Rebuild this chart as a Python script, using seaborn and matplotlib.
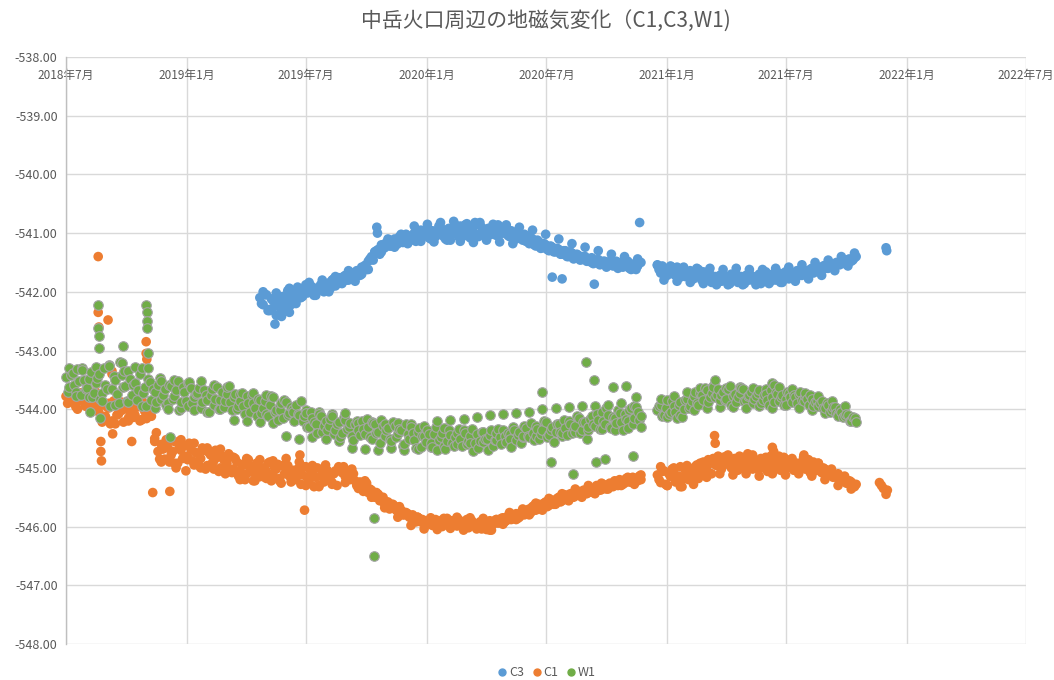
import numpy as np
import pandas as pd
import matplotlib
matplotlib.use("Agg")
import matplotlib.pyplot as plt
from matplotlib.lines import Line2D
import seaborn as sns

# ---- readings on two interleaved 5-day grids plus a 10-day grid ----
grid_start_a = "2018-07-01"
grid_start_b = "2018-07-03 12:00"
grid_start_c = "2018-07-06"

c1_values_a = [
    -543.78, -543.85, -543.70, -543.92, -543.80, -543.74, -543.95, -543.82, -543.88, -543.76,
    -544.05, -543.92, -544.12, -543.98, -544.20, -543.90, -544.08, -544.02, -543.94, -544.15,
    -544.00, -544.10, -543.96, -544.18, -544.04, -543.92, -544.12, -544.55, -544.72, -544.60,
    -544.85, -544.66, -544.78, -544.55, -544.92, -544.70, -544.62, -544.80, -544.68, -544.95,
    -544.75, -544.84, -544.70, -544.96, -544.78, -544.88, -544.82, -545.00, -544.86, -544.92,
    -544.80, -545.02, -544.90, -545.05, -544.95, -545.10, -544.98, -545.08, -544.92, -545.15,
    -545.00, -545.06, -544.90, -545.12, -545.02, -545.18, -544.96, -545.08, -545.14, -545.04,
    -545.20, -545.06, -545.12, -544.98, -545.22, -545.10, -545.16, -545.30, -545.08, -545.18,
    -545.12, -545.25, -545.05, -545.00, -545.08, -545.15, -545.05, -545.18, -545.22, -545.28,
    -545.35, -545.30, -545.42, -545.38, -545.50, -545.45, -545.55, -545.62, -545.58, -545.68,
    -545.65, -545.74, -545.72, -545.80, -545.78, -545.85, -545.88, -545.84, -545.92, -545.90,
    -545.95, -545.88, -545.93, -545.97, -545.90, -545.94, -545.86, -545.96, -545.92, -545.99,
    -545.91, -545.95, -545.88, -545.98, -545.94, -546.02, -545.92, -545.97, -546.05, -545.90,
    -545.96, -545.88, -545.93, -545.85, -545.90, -545.82, -545.86, -545.78, -545.84, -545.74,
    -545.78, -545.70, -545.66, -545.72, -545.62, -545.68, -545.58, -545.64, -545.55, -545.60,
    -545.50, -545.56, -545.46, -545.52, -545.44, -545.48, -545.40, -545.45, -545.38, -545.42,
    -545.35, -545.40, -545.32, -545.37, -545.30, -545.34, -545.28, -545.25, -545.30, -545.22,
    -545.26, -545.20, -545.24, -545.18, -545.22, -545.20, np.nan, np.nan, np.nan, np.nan,
    -545.12, -545.25, -545.05, -545.30, -545.15, -545.08, -545.22, -544.98, -545.18, -545.10,
    -545.02, -545.14, -544.95, -545.08, -544.90, -545.00, -544.92, -544.85, -544.96, -544.88,
    -544.82, -544.92, -544.86, -544.95, -544.88, -545.00, -544.90, -544.96, -544.84, -545.02,
    -544.92, -544.88, -545.00, -544.94, -544.86, -545.05, -544.95, -544.90, -545.02, -544.92,
    -544.98, -544.88, -545.00, -544.95, -544.90, -545.02, -544.86, -544.98, -545.05, -544.92,
    -545.08, -545.02, -545.12, -545.06, -545.15, -545.10, -545.20, -545.18, -545.26, -545.24,
    -545.32,
]
c1_values_b = [
    -543.90, -543.68, -543.84, -544.00, -543.72, -543.88, -543.66, -544.02, -543.78, -543.95,
    -543.88, -544.18, -543.96, -544.25, -543.86, -544.10, -543.94, -544.22, -543.90, -544.06,
    -544.14, -543.92, -544.20, -543.88, -544.16, -544.06, -543.98, -544.40, -544.85, -544.68,
    -544.52, -544.90, -544.72, -545.00, -544.64, -544.84, -545.05, -544.58, -544.88, -544.74,
    -544.96, -544.66, -545.02, -544.74, -544.92, -544.70, -545.06, -544.80, -545.10, -544.76,
    -545.08, -544.84, -545.14, -544.94, -545.20, -544.86, -545.04, -545.22, -544.96, -545.06,
    -545.16, -544.92, -545.22, -545.00, -544.94, -545.26, -545.10, -544.96, -545.24, -545.12,
    -545.02, -545.28, -544.98, -545.18, -545.06, -545.32, -545.00, -545.14, -545.24, -545.04,
    -545.22, -545.10, -545.30, -545.02, -544.98, -545.12, -545.20, -545.10, -545.30, -545.24,
    -545.40, -545.26, -545.36, -545.48, -545.42, -545.56, -545.50, -545.58, -545.70, -545.62,
    -545.72, -545.66, -545.80, -545.76, -545.84, -545.80, -545.92, -545.86, -545.88, -545.96,
    -545.90, -545.98, -545.88, -545.94, -546.00, -545.92, -545.98, -545.90, -545.96, -545.88,
    -545.97, -545.92, -546.02, -545.90, -545.99, -545.95, -546.04, -545.93, -545.98, -546.06,
    -545.90, -545.94, -545.86, -545.92, -545.82, -545.88, -545.80, -545.86, -545.76, -545.80,
    -545.72, -545.76, -545.64, -545.70, -545.66, -545.60, -545.66, -545.56, -545.62, -545.52,
    -545.58, -545.48, -545.54, -545.44, -545.50, -545.40, -545.46, -545.38, -545.44, -545.36,
    -545.42, -545.30, -545.38, -545.28, -545.36, -545.26, -545.32, -545.24, -545.20, -545.28,
    -545.18, -545.24, -545.16, -545.22, -545.14, np.nan, np.nan, np.nan, np.nan, np.nan,
    -545.20, -545.06, -545.28, -545.10, -545.02, -545.24, -545.14, -545.32, -545.04, -545.20,
    -545.10, -544.98, -545.18, -544.92, -545.04, -544.86, -545.10, -544.94, -544.80, -545.02,
    -544.94, -544.78, -545.00, -544.84, -545.04, -544.82, -544.98, -544.76, -544.92, -544.86,
    -545.02, -544.84, -544.96, -545.06, -544.80, -544.98, -544.88, -545.04, -544.82, -545.00,
    -544.86, -545.04, -544.92, -545.00, -544.82, -544.96, -545.08, -544.90, -544.98, -545.04,
    -545.00, -545.10, -545.06, -545.16, -545.12, -545.22, -545.16, -545.26, -545.22, -545.30,
    -545.28,
]
c1_values_c = [
    -543.66, -543.96, -543.72, -543.98, -543.70,
    -544.22, -543.90, -544.25, -543.88, -544.20, -543.92, -544.18, -543.95,
    -544.50, -544.90, -544.55, -544.92, -544.52, -544.86, -544.58,
    -545.00, -544.66, -545.02, -544.68, -544.98,
    -544.82, -545.20, -544.84, -545.22, -544.86, -545.18, -544.88, -545.22, -544.84, -545.20, -544.90,
    -545.30, -544.96, -545.32, -544.95, -545.28, -544.98, -545.25, -545.02,
    -545.35, -545.22, -545.50, -545.45, -545.68, -545.62, -545.84, -545.76, -545.98,
    -545.84, -546.04, -545.85, -546.05, -545.86, -546.03, -545.84, -546.06, -545.85, -546.04,
    -545.86, -546.06, -545.88,
    -545.96, -545.76, -545.88, -545.70, -545.80, -545.60, -545.72, -545.52,
    -545.62, -545.44, -545.56, -545.36, -545.50, -545.30, -545.44, -545.26, -545.36, -545.22,
    -545.30, -545.16, -545.28,
    -545.12, np.nan, np.nan,
    -544.98, -545.30, -545.00, -545.32, -544.96, -545.28, -544.92, -545.16, -544.84,
    -545.10, -544.80, -545.12, -544.80, -545.10, -544.78, -545.14, -544.82, -545.10, -544.80,
    -545.12, -544.84,
    -545.10, -544.86, -545.14, -544.92, -545.20, -545.02, -545.30, -545.14, -545.36,
]

w1_values_a = [
    -543.45, -543.62, -543.38, -543.70, -543.52, -543.30, -543.66, -543.48, -543.80, -543.55,
    -543.40, -543.72, -543.58, -543.25, -543.65, -543.50, -543.90, -543.42, -543.60, -543.35,
    -543.75, -543.55, -543.68, -543.30, -543.62, -543.48, -543.85, -543.70, -543.58, -543.82,
    -543.66, -543.90, -543.60, -543.78, -543.52, -543.88, -543.70, -543.95, -543.64, -543.80,
    -543.72, -543.98, -543.68, -543.85, -543.76, -543.92, -543.62, -543.84, -543.96, -543.74,
    -543.88, -543.80, -544.00, -543.86, -543.95, -543.78, -544.05, -543.90, -544.12, -543.84,
    -543.98, -544.08, -543.92, -543.80, -544.02, -543.94, -544.15, -543.88, -544.06, -544.00,
    -543.92, -544.10, -544.20, -544.02, -544.30, -544.15, -544.25, -544.08, -544.38, -544.20,
    -544.28, -544.12, -544.35, -544.22, -544.40, -544.18, -544.30, -544.45, -544.25, -544.36,
    -544.20, -544.42, -544.30, -544.50, -544.26, -544.38, -544.18, -544.46, -544.32, -544.55,
    -544.28, -544.40, -544.35, -544.60, -544.42, -544.30, -544.52, -544.38, -544.65, -544.45,
    -544.35, -544.58, -544.42, -544.70, -544.48, -544.32, -544.55, -544.44, -544.62, -544.40,
    -544.50, -544.36, -544.60, -544.46, -544.72, -544.42, -544.54, -544.38, -544.50, -544.44,
    -544.62, -544.40, -544.48, -544.35, -544.56, -544.42, -544.30, -544.52, -544.38, -544.45,
    -544.32, -544.48, -544.40, -544.28, -544.50, -544.36, -544.22, -544.44, -544.30, -544.38,
    -544.25, -544.45, -544.32, -544.20, -544.40, -544.28, -544.15, -544.35, -544.22, -544.30,
    -544.12, -544.28, -544.18, -544.05, -544.25, -544.10, -544.32, -544.15, -544.02, -544.22,
    -544.08, -544.20, -543.98, -544.15, -544.05, -544.12, np.nan, np.nan, np.nan, np.nan,
    -544.02, -543.92, -544.10, -543.85, -544.05, -543.95, -544.15, -543.88, -544.00, -543.82,
    -543.95, -543.78, -543.90, -543.72, -543.85, -543.68, -543.80, -543.62, -543.75, -543.85,
    -543.70, -543.82, -543.60, -543.78, -543.88, -543.72, -543.66, -543.84, -543.75, -543.90,
    -543.78, -543.68, -543.85, -543.74, -543.92, -543.80, -543.70, -543.86, -543.76, -543.82,
    -543.72, -543.88, -543.80, -543.74, -543.85, -543.78, -543.92, -543.82, -543.88, -543.95,
    -543.86, -543.98, -543.92, -544.02, -543.96, -544.08, -544.04, -544.12, -544.10, -544.18,
    -544.15,
]
w1_values_b = [
    -543.70, -543.42, -543.58, -543.32, -543.76, -543.50, -543.64, -543.36, -543.72, -543.46,
    -543.82, -543.30, -543.66, -543.95, -543.44, -543.74, -543.20, -543.62, -543.86, -543.48,
    -543.58, -543.84, -543.40, -543.72, -543.94, -543.54, -543.66, -543.88, -543.46, -543.76,
    -543.92, -543.58, -543.82, -543.68, -544.02, -543.62, -543.86, -543.54, -543.90, -543.74,
    -543.64, -543.88, -543.76, -544.04, -543.66, -543.82, -544.00, -543.70, -543.86, -543.60,
    -544.02, -543.74, -543.94, -543.72, -544.08, -543.90, -543.76, -543.98, -543.82, -544.06,
    -543.86, -544.12, -543.78, -544.04, -544.18, -543.90, -543.84, -544.10, -543.96, -544.20,
    -544.08, -543.86, -544.12, -544.30, -544.04, -544.22, -544.40, -544.12, -544.28, -544.36,
    -544.16, -544.42, -544.26, -544.48, -544.14, -544.34, -544.24, -544.52, -544.20, -544.44,
    -544.34, -544.16, -544.48, -544.24, -544.40, -544.58, -544.28, -544.36, -544.50, -544.22,
    -544.48, -544.34, -544.62, -544.26, -544.50, -544.40, -544.66, -544.32, -544.46, -544.56,
    -544.42, -544.64, -544.30, -544.52, -544.40, -544.68, -544.36, -544.58, -544.48, -544.34,
    -544.62, -544.40, -544.54, -544.34, -544.58, -544.66, -544.38, -544.50, -544.70, -544.36,
    -544.52, -544.34, -544.60, -544.46, -544.40, -544.64, -544.36, -544.44, -544.58, -544.28,
    -544.46, -544.24, -544.52, -544.34, -544.42, -544.20, -544.48, -544.36, -544.56, -544.26,
    -544.38, -544.18, -544.44, -544.26, -544.34, -544.12, -544.40, -544.22, -544.50, -544.16,
    -544.26, -544.08, -544.34, -544.20, -543.98, -544.30, -544.14, -544.24, -544.06, -544.36,
    -544.16, -544.02, -544.26, -543.96, -544.18, np.nan, np.nan, np.nan, np.nan, np.nan,
    -543.94, -544.12, -543.98, -544.08, -543.86, -544.04, -543.92, -544.14, -543.84, -543.98,
    -543.86, -543.70, -543.92, -543.76, -543.64, -543.88, -543.72, -543.80, -543.66, -543.76,
    -543.84, -543.66, -543.92, -543.74, -543.80, -543.64, -543.86, -543.78, -543.70, -543.82,
    -543.72, -543.90, -543.76, -543.84, -543.68, -543.88, -543.74, -543.80, -543.92, -543.70,
    -543.80, -543.76, -543.90, -543.70, -543.86, -543.82, -543.76, -543.94, -543.86, -543.90,
    -543.98, -543.90, -544.04, -543.96, -544.06, -544.00, -544.14, -544.08, -544.20, -544.14,
    -544.22,
]
w1_values_c = [
    -543.30, -543.78, -543.34, -543.80, -543.28,
    -543.86, -543.26, -543.92, -543.22, -543.88, -543.28, -543.95, -543.30,
    -543.98, -543.52, -544.00, -543.50, -543.98, -543.55, -544.02, -543.52, -544.04, -543.58,
    -544.00, -543.62,
    -544.18, -543.74, -544.20, -543.72, -544.22, -543.76, -544.24,
    -544.02, -544.46, -544.04, -544.50, -544.06, -544.48, -544.04, -544.50, -544.08, -544.54,
    -544.06,
    -544.66, -544.24, -544.68, -544.22, -544.70, -544.26, -544.66, -544.24, -544.70, -544.26,
    -544.68, -544.28, -544.64,
    -544.20, -544.62, -544.18, -544.60, -544.16, -544.58, -544.14, -544.56, -544.10, -544.52,
    -544.08, -544.50, -544.06, -544.48, -544.04,
    -544.45, -544.00, -544.42, -543.98, -544.40, -543.96, -544.38, -543.95, -544.36, -543.94,
    -544.34, -543.92, -544.35, -543.90, -544.32, -543.94,
    -544.30, np.nan, np.nan,
    -543.82, -544.14, -543.78, -544.10, -543.70, -544.02, -543.64, -543.98, -543.60, -543.96,
    -543.64, -543.96, -543.62, -543.98, -543.64, -543.94, -543.66, -543.98, -543.62, -543.92,
    -543.66,
    -543.98, -543.72, -544.02, -543.78, -544.06, -543.86, -544.12, -543.94, -544.20,
]

# C3 begins later, on the same grids
c3_start_a = "2019-04-22"
c3_start_b = "2019-04-24 12:00"
c3_start_c = "2019-04-27"
c3_values_a = [
    -542.10, -542.22, -542.05, -542.30, -542.15, -542.40, -542.18, -542.08, -542.25, -542.12,
    -542.02, -542.15, -541.95, -542.05, -541.88, -542.00, -541.92, -542.04, -541.96, -541.90,
    -541.98, -541.85, -541.80, -541.90, -541.76, -541.84, -541.72, -541.80, -541.68, -541.74,
    -541.65, -541.70, -541.55, -541.48, -541.40, -541.32, -541.28, -541.20, -541.25, -541.15,
    -541.22, -541.10, -541.18, -541.08, -541.15, -541.05, -541.12, -541.00, -541.08, -540.95,
    -541.04, -540.92, -541.10, -540.98, -541.02, -540.90, -541.06, -540.96, -541.12, -540.94,
    -541.00, -540.88, -541.05, -540.92, -541.08, -540.98, -540.85, -541.02, -540.94, -541.10,
    -540.96, -540.88, -541.04, -540.92, -541.00, -540.90, -541.06, -540.98, -541.10, -541.02,
    -541.12, -541.05, -541.18, -541.10, -541.22, -541.15, -541.25, -541.20, -541.30, -541.24,
    -541.32, -541.28, -541.36, -541.30, -541.40, -541.34, -541.42, -541.38, -541.45, -541.40,
    -541.48, -541.42, -541.50, -541.45, -541.52, -541.48, -541.55, -541.46, -541.52, -541.58,
    -541.50, -541.55, -541.48, -541.60, -541.52, -541.56, -541.50, np.nan, np.nan, np.nan,
    np.nan, -541.55, -541.68, -541.60, -541.72, -541.62, -541.70, -541.58, -541.75, -541.66,
    -541.72, -541.64, -541.78, -541.68, -541.74, -541.66, -541.80, -541.70, -541.76, -541.85,
    -541.72, -541.80, -541.74, -541.86, -541.78, -541.70, -541.82, -541.76, -541.72, -541.80,
    -541.74, -541.84, -541.70, -541.78, -541.66, -541.76, -541.70, -541.80, -541.68, -541.74,
    -541.66, -541.78, -541.70, -541.76, -541.68, -541.72, -541.64, -541.70, -541.60, -541.66,
    -541.58, -541.62, -541.55, -541.60, -541.52, -541.56, -541.50, -541.48, -541.52, -541.45,
    -541.48, -541.42,
]
c3_values_b = [
    -542.20, -542.05, -542.32, -542.12, -542.25, -542.08, -542.35, -542.18, -541.98, -542.22,
    -542.08, -541.92, -542.10, -541.98, -542.02, -541.90, -542.06, -541.94, -541.88, -542.00,
    -541.86, -541.94, -541.78, -541.86, -541.82, -541.74, -541.80, -541.70, -541.76, -541.64,
    -541.72, -541.60, -541.62, -541.44, -541.46, -541.30, -541.36, -541.24, -541.16, -541.22,
    -541.14, -541.20, -541.06, -541.16, -541.02, -541.12, -541.04, -541.14, -540.96, -541.06,
    -540.94, -541.08, -540.96, -541.06, -540.88, -541.00, -541.10, -540.92, -541.02, -540.86,
    -541.06, -540.94, -540.86, -541.02, -540.94, -540.82, -541.06, -540.90, -541.00, -540.92,
    -541.02, -540.94, -540.86, -541.00, -540.92, -541.04, -540.96, -541.08, -540.98, -541.06,
    -541.02, -541.14, -541.08, -541.20, -541.12, -541.26, -541.18, -541.28, -541.22, -541.32,
    -541.26, -541.36, -541.30, -541.40, -541.32, -541.44, -541.36, -541.46, -541.40, -541.48,
    -541.44, -541.52, -541.46, -541.54, -541.48, -541.58, -541.50, -541.56, -541.48, -541.54,
    -541.58, -541.50, -541.60, -541.54, -541.62, np.nan, np.nan, np.nan, np.nan, np.nan,
    np.nan, -541.62, -541.56, -541.70, -541.64, -541.58, -541.72, -541.66, -541.62, -541.74,
    -541.68, -541.78, -541.70, -541.62, -541.80, -541.72, -541.76, -541.84, -541.74, -541.78,
    -541.82, -541.76, -541.88, -541.70, -541.80, -541.84, -541.74, -541.86, -541.78, -541.72,
    -541.80, -541.76, -541.86, -541.74, -541.70, -541.82, -541.76, -541.72, -541.84, -541.70,
    -541.76, -541.68, -541.74, -541.64, -541.72, -541.66, -541.70, -541.62, -541.68, -541.60,
    -541.64, -541.56, -541.60, -541.54, -541.58, -541.50, -541.54, -541.46, -541.50, -541.44,
    -541.46, -541.40,
]
c3_values_c = [
    -542.00, -542.32, -542.02, -542.26, -541.94, -542.20,
    -542.08, -541.84, -542.06, -541.80, -542.00, -541.74,
    -541.86, -541.64, -541.82, -541.58, -541.62, -541.32,
    -541.32, -541.10, -541.24, -541.02, -541.18,
    -540.88, -541.14, -540.85, -541.15, -540.82, -541.12, -540.80, -541.14, -540.84, -541.16,
    -540.82, -541.12, -540.85, -541.15, -540.86, -541.18, -540.90, -541.14,
    -540.95, -541.22, -541.02, -541.28, -541.10, -541.36, -541.18, -541.42,
    -541.24, -541.50, -541.30, -541.54, -541.36, -541.60, -541.40, -541.62, -541.44,
    np.nan, np.nan,
    -541.54, -541.80, -541.56, -541.82, -541.58, -541.84, -541.60, -541.86, -541.60, -541.88,
    -541.62,
    -541.86, -541.60, -541.88, -541.62, -541.88, -541.62, -541.86, -541.60, -541.84, -541.58,
    -541.82,
    -541.54, -541.78, -541.50, -541.72, -541.46, -541.64, -541.40, -541.56, -541.34,
]

# ---- individual readings off the grids ----
c1_extra_dates = [
    "2018-08-19", "2018-08-19", "2018-08-20", "2018-08-23", "2018-08-23", "2018-08-24",
    "2018-09-03", "2018-09-09", "2018-09-09", "2018-09-10", "2018-10-09",
    "2018-10-31", "2018-10-31", "2018-11-01", "2018-11-10", "2018-12-06",
    "2019-06-22", "2019-06-29", "2021-03-14", "2021-03-15", "2021-06-10", "2021-06-12",
    "2021-07-28",
    "2021-11-20", "2021-11-23", "2021-11-26", "2021-11-30", "2021-12-02",
]
c1_extra_values = [
    -541.40, -542.35, -542.60, -544.55, -544.72, -544.88,
    -542.48, -543.35, -543.40, -544.42, -544.55,
    -542.85, -543.05, -543.15, -545.42, -545.40,
    -544.78, -545.72, -544.45, -544.58, -544.65, -544.72,
    -544.78,
    -545.25, -545.30, -545.35, -545.45, -545.38,
]

w1_extra_dates = [
    "2018-08-06", "2018-08-19", "2018-08-19", "2018-08-20", "2018-08-20", "2018-08-22",
    "2018-09-25", "2018-09-27",
    "2018-10-31", "2018-11-01", "2018-11-01", "2018-11-02", "2018-11-03", "2018-12-06",
    "2019-10-12", "2019-10-12",
    "2020-06-25", "2020-07-08", "2020-08-11", "2020-08-31", "2020-09-12", "2020-09-15",
    "2020-09-29", "2020-10-10", "2020-10-31", "2020-11-10", "2020-11-15",
    "2021-03-14", "2021-06-10", "2021-06-13",
]
w1_extra_values = [
    -544.05, -542.22, -542.62, -542.75, -542.95, -544.15,
    -542.92, -543.35,
    -542.22, -542.35, -542.50, -542.62, -543.05, -544.47,
    -545.85, -546.50,
    -543.70, -544.90, -545.10, -543.20, -543.50, -544.90,
    -544.85, -543.62, -543.60, -544.80, -543.80,
    -543.50, -543.55, -543.58,
]

c3_extra_dates = [
    "2019-05-15", "2019-05-25", "2019-06-06", "2019-10-17", "2019-10-18",
    "2020-07-10", "2020-07-25", "2020-09-12", "2020-11-20",
    "2021-11-30", "2021-12-01",
]
c3_extra_values = [
    -542.55, -542.42, -542.35, -540.90, -541.00,
    -541.75, -541.78, -541.87, -540.82,
    -541.25, -541.30,
]

series_names = ["C3", "C1", "W1"]
series_colors = {"C3": "#5B9BD5", "C1": "#ED7D31", "W1": "#70AD47"}

x_min, x_max = "2018-07-01", "2022-07-01"
y_min, y_max = -548.0, -538.0

title_text = "中岳火口周辺の地磁気変化（C1,C3,W1)"


def grid_frame(start, step, values):
    dates = pd.date_range(start, periods=len(values), freq=step)
    return pd.DataFrame({"date": dates, "value": values})


def build_frame(name, grids, extra_dates, extra_values):
    parts = [grid_frame(start, step, vals) for start, step, vals in grids]
    parts.append(pd.DataFrame({"date": pd.to_datetime(extra_dates), "value": extra_values}))
    df = pd.concat(parts, ignore_index=True).dropna().sort_values("date")
    df["series"] = name
    return df


frames = {
    "C3": build_frame("C3", [(c3_start_a, "5D", c3_values_a),
                             (c3_start_b, "5D", c3_values_b),
                             (c3_start_c, "10D", c3_values_c)],
                      c3_extra_dates, c3_extra_values),
    "C1": build_frame("C1", [(grid_start_a, "5D", c1_values_a),
                             (grid_start_b, "5D", c1_values_b),
                             (grid_start_c, "10D", c1_values_c)],
                      c1_extra_dates, c1_extra_values),
    "W1": build_frame("W1", [(grid_start_a, "5D", w1_values_a),
                             (grid_start_b, "5D", w1_values_b),
                             (grid_start_c, "10D", w1_values_c)],
                      w1_extra_dates, w1_extra_values),
}

sns.set_theme(style="white")
plt.rcParams["font.family"] = ["Noto Sans CJK JP", "DejaVu Sans"]

fig = plt.figure(figsize=(10.54, 6.8), dpi=100)
ax = fig.add_axes([66 / 1054, 1 - 644 / 680, (1026 - 66) / 1054, (644 - 57) / 680])

edge = {"C3": "none", "C1": "none", "W1": "#A5A5A5"}
for name in series_names:
    sns.scatterplot(
        data=frames[name], x="date", y="value", ax=ax,
        color=series_colors[name], edgecolor=edge[name],
        linewidth=0.8 if name == "W1" else 0, s=48, alpha=1.0,
        legend=False, zorder=3, clip_on=False,
    )

ax.set_xlim(pd.Timestamp(x_min), pd.Timestamp(x_max))
ax.set_ylim(y_min, y_max)

# y axis
ax.set_yticks(np.arange(y_min, y_max + 0.5, 1.0))
ax.yaxis.set_major_formatter(matplotlib.ticker.FuncFormatter(lambda v, p: f"{v:.2f}"))

# x axis: half-year ticks, labels just under the top edge
xticks = pd.date_range(x_min, x_max, freq="6MS")
ax.set_xticks(xticks)
ax.set_xticklabels([f"{d.year}年{d.month}月" for d in xticks])
ax.xaxis.tick_top()
ax.tick_params(axis="x", which="both", length=0, pad=-18, labelsize=8.5,
               labelcolor="#595959")
ax.tick_params(axis="y", length=0, pad=6, labelsize=9, labelcolor="#595959")

ax.grid(True, color="#D9D9D9", linewidth=1.0)
ax.set_axisbelow(True)
for side in ["top", "right", "bottom"]:
    ax.spines[side].set_visible(False)
ax.spines["left"].set_color("#BFBFBF")
ax.spines["left"].set_linewidth(1.0)
ax.set_xlabel("")
ax.set_ylabel("")

fig.text(546 / 1054, 1 - 22 / 680, title_text, ha="center", va="center",
         fontsize=15, color="#595959")

handles = [
    Line2D([0], [0], marker="o", linestyle="none", markersize=5,
           markerfacecolor=series_colors[n], markeredgecolor=series_colors[n])
    for n in series_names
]
fig.legend(handles, series_names, loc="center", bbox_to_anchor=(546 / 1054, 1 - 673 / 680),
           ncol=3, frameon=False, fontsize=9, handletextpad=0.05, columnspacing=0.5,
           handlelength=1.0, labelcolor="#595959")

fig.savefig("out.png", dpi=100)
